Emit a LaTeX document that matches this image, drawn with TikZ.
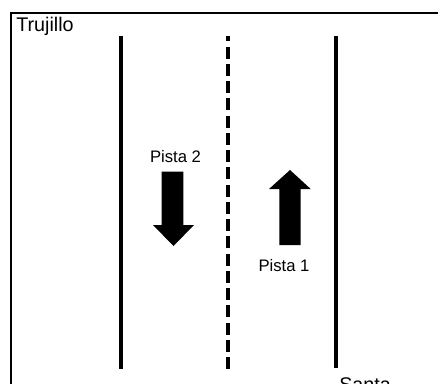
\documentclass[tikz,border=0pt]{standalone}
\usepackage{fontspec}
\setmainfont{Liberation Sans}
\begin{document}
\begin{tikzpicture}[x=0.75pt,y=-0.75pt,
  road/.style={line width=3pt},
  lbl/.style={inner sep=0pt, font=\fontsize{12.5pt}{14pt}\selectfont},
  city/.style={inner sep=0pt, font=\fontsize{14.8pt}{16pt}\selectfont},
  arr/.style={fill=black, draw=none}]
\useasboundingbox (0,0) rectangle (438,383);
\draw[line width=0.8pt] (11,390) -- (11,13) -- (440,13);
\draw[road] (120.5,36) -- (120.5,369);
\draw[road] (336,36) -- (336,368);
\draw[road, dash pattern=on 9pt off 3.93pt] (228,369) -- (228,36);
\node[city, anchor=base west] (tru) at (16,31) {Trujillo};
\node[city, anchor=base west] (san) at (339,391) {Santa};
\node[lbl, anchor=base] (p2) at (175.5,162.5) {Pista 2};
\node[lbl, anchor=base] (p1) at (284,271) {Pista 1};
\fill[arr] (161.7,171.7) -- (183.3,171.7) -- (183.3,225) -- (194,225) -- (173.5,246) -- (153,225) -- (161.7,225) -- cycle;
\fill[arr] (279.3,245) -- (300.7,245) -- (300.7,189) -- (310.7,189) -- (290,170) -- (269,189) -- (279.3,189) -- cycle;
\end{tikzpicture}
\end{document}
